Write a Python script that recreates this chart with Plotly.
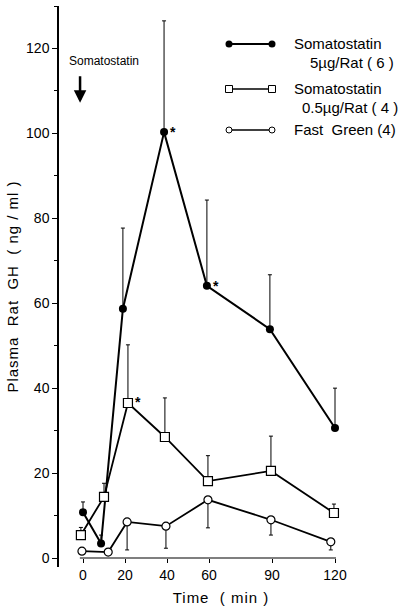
import plotly.graph_objects as go

# ---- data ----
high_t = [0, 8.6, 19, 38.6, 59, 89, 120]
high_v = [10.8, 3.4, 58.7, 100.3, 64.1, 53.9, 30.6]
high_err = [2.4, 2.0, 19.0, 26.2, 20.2, 12.8, 9.4]

low_t = [-1, 10, 21.4, 39, 59.5, 89.5, 119.5]
low_v = [5.4, 14.4, 36.5, 28.5, 18.1, 20.5, 10.6]
low_err = [1.8, 3.2, 13.7, 9.2, 6.0, 8.2, 2.1]

fg_t = [-0.5, 12, 21, 39.5, 59.5, 89.5, 118]
fg_v = [1.6, 1.4, 8.5, 7.5, 13.7, 9.0, 3.8]
fg_err_minus = [0, 0, 6.6, 5.2, 6.6, 3.6, 1.9]

x_ticks = [0, 20, 40, 60, 90, 120]
y_ticks = [0, 20, 40, 60, 80, 100, 120]

legend_lines = [["Somatostatin", "5\u00b5g/Rat ( 6 )"],
                ["Somatostatin", "0.5\u00b5g/Rat ( 4 )"],
                ["Fast  Green (4)"]]

# significance markers (index of point in series)
star_high = [3, 4]
star_low = [2]

FONT = "Liberation Sans, Arial, sans-serif"
W, H = 403, 609
ML, MR, MT, MB = 59, 20, 6, 42
XR = [-11.43, 142.86]
YR = [-2.12, 130.0]

fig = go.Figure()

zero_minus = [0] * len(high_t)

fig.add_trace(go.Scatter(
    x=high_t, y=high_v, mode="lines+markers",
    line=dict(color="black", width=2),
    marker=dict(symbol="circle", size=8, color="black"),
    error_y=dict(type="data", symmetric=False, array=high_err,
                 arrayminus=zero_minus, color="black", thickness=1, width=2),
    showlegend=False))

fig.add_trace(go.Scatter(
    x=low_t, y=low_v, mode="lines+markers",
    line=dict(color="black", width=1.8),
    marker=dict(symbol="square", size=9, color="white",
                line=dict(color="black", width=1.2)),
    error_y=dict(type="data", symmetric=False, array=low_err,
                 arrayminus=zero_minus, color="black", thickness=1, width=2),
    showlegend=False))

fig.add_trace(go.Scatter(
    x=fg_t, y=fg_v, mode="lines+markers",
    line=dict(color="black", width=1.8),
    marker=dict(symbol="circle", size=8, color="white",
                line=dict(color="black", width=1.2)),
    error_y=dict(type="data", symmetric=False, array=[0] * len(fg_t),
                 arrayminus=fg_err_minus, color="black", thickness=1, width=2),
    showlegend=False))

# asterisks
for i in star_high:
    fig.add_annotation(x=high_t[i], y=high_v[i], text="<b>*</b>", showarrow=False,
                       xanchor="left", yanchor="middle", xshift=4, yshift=0,
                       font=dict(family=FONT, size=14, color="black"))
for i in star_low:
    fig.add_annotation(x=low_t[i], y=low_v[i], text="<b>*</b>", showarrow=False,
                       xanchor="left", yanchor="middle", xshift=5, yshift=1,
                       font=dict(family=FONT, size=14, color="black"))

# Somatostatin arrow
fig.add_annotation(x=10, y=117, text="Somatostatin", showarrow=False,
                   font=dict(family=FONT, size=12, color="black"))
fig.add_annotation(x=-1.4, y=107.2, ax=0, ay=-28, text="", showarrow=True,
                   arrowhead=2, arrowsize=1, arrowwidth=2.5, arrowcolor="black")

# x-axis line at y = 0
fig.add_shape(type="line", x0=-1.5, x1=120.5, y0=0, y1=0,
              line=dict(color="black", width=1.2), layer="below")

# ---- custom legend in a helper subplot (pixel-like coordinates) ----
plot_w = W - ML - MR
plot_h = H - MT - MB
lx0, lx1 = 200, W - MR
ly_top, ly_bot = 20, 150
x2dom = [(lx0 - ML) / plot_w, 1.0]
y2dom = [(H - MB - ly_bot) / plot_h, (H - MB - ly_top) / plot_h]

leg_rows = [44, 89, 130]
leg_markers = [dict(symbol="circle", size=7, color="black"),
               dict(symbol="square", size=7, color="white", line=dict(color="black", width=1)),
               dict(symbol="circle", size=6, color="white", line=dict(color="black", width=1))]
leg_line_w = [2, 1.3, 1.5]
leg_text_x = [[292, 308], [292, 300], [292]]
for row, mk, lw in zip(leg_rows, leg_markers, leg_line_w):
    fig.add_trace(go.Scatter(x=[229, 272], y=[row, row], mode="lines+markers",
                             line=dict(color="black", width=lw), marker=mk,
                             xaxis="x2", yaxis="y2", showlegend=False,
                             hoverinfo="skip"))
for lines, row, xs in zip(legend_lines, leg_rows, leg_text_x):
    for k, (txt, tx) in enumerate(zip(lines, xs)):
        fig.add_annotation(x=tx, y=row + 19 * k, xref="x2", yref="y2", text=txt,
                           showarrow=False, xanchor="left", yanchor="middle",
                           font=dict(family=FONT, size=15, color="black"))

fig.update_layout(
    width=W, height=H,
    margin=dict(l=ML, r=MR, t=MT, b=MB),
    paper_bgcolor="white", plot_bgcolor="white",
    font=dict(family=FONT, color="black"),
    xaxis=dict(range=XR, tickvals=x_ticks, ticks="outside", ticklen=4,
               tickwidth=1, tickcolor="black", showline=False, showgrid=False,
               zeroline=False, anchor="free", automargin=False,
               position=(0 - YR[0]) / (YR[1] - YR[0]),
               tickfont=dict(family=FONT, size=14),
               title=dict(text="<span style='letter-spacing:1px'>Time  ( min )</span>",
                          font=dict(family=FONT, size=15), standoff=10)),
    yaxis=dict(range=YR, tickvals=y_ticks, ticks="outside", ticklen=5,
               tickwidth=1.2, tickcolor="black", showline=True, linecolor="black",
               linewidth=1.5, showgrid=False, zeroline=False, automargin=False,
               minor=dict(dtick=10, tick0=0, ticks="outside", ticklen=3,
                          tickwidth=1, tickcolor="black"),
               tickfont=dict(family=FONT, size=14),
               title=dict(text="<span style='letter-spacing:1px'>Plasma  Rat  GH  ( ng / ml )</span>",
                          font=dict(family=FONT, size=15), standoff=4)),
    xaxis2=dict(domain=x2dom, range=[lx0, lx1], visible=False, anchor="y2",
                automargin=False),
    yaxis2=dict(domain=y2dom, range=[ly_bot, ly_top], visible=False, anchor="x2",
                automargin=False),
)

fig.write_html("out.html", config={"displayModeBar": False},
               post_script="document.body.style.margin='0';"
                           "document.body.style.overflow='hidden';")
